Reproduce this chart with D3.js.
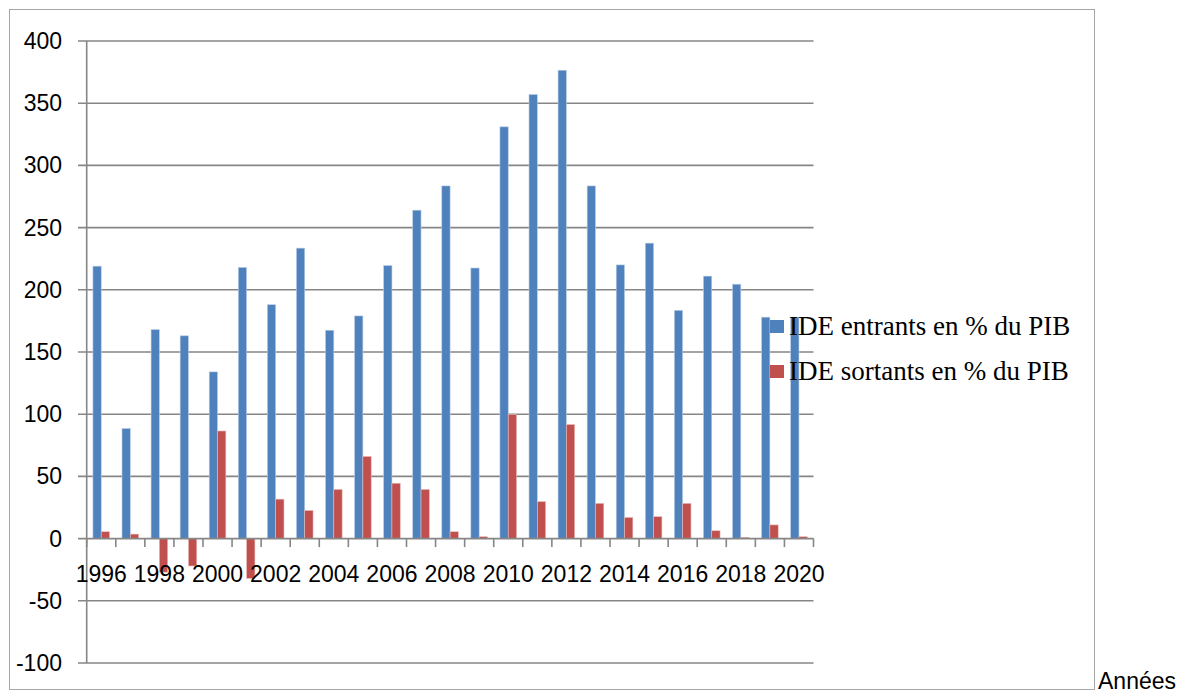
<!DOCTYPE html>
<html>
<head>
<meta charset="utf-8">
<script src="https://cdn.jsdelivr.net/npm/d3@7"></script>
<style>
  html, body { margin: 0; padding: 0; background: #fff; }
  svg { display: block; }
</style>
</head>
<body>
<script>
const years = [1996,1997,1998,1999,2000,2001,2002,2003,2004,2005,2006,2007,2008,2009,2010,2011,2012,2013,2014,2015,2016,2017,2018,2019,2020];
const ideEntrants = [219,88.5,168,163,134,218,188,233.5,167.5,179,219.5,264,283.5,217.5,331,357,376.5,283.5,220,237.5,183.5,211,204.5,178,178];
const ideSortants = [5.5,3.6,-27,-22,86.5,-32,31.7,22.6,39.5,66,44.5,39.5,5.5,1.5,99.7,29.7,91.7,28.3,17,17.6,28.3,6.3,1,11,1.5];
const yTicks = [-100,-50,0,50,100,150,200,250,300,350,400];
const xLabelYears = years.filter((d,i) => i % 2 === 0);
const seriesNames = ["IDE entrants en % du PIB", "IDE sortants en % du PIB"];
const seriesColors = ["#4F81BD", "#C0504D"];
const axisTitle = "Années";

const W = 1184, H = 695;
const svg = d3.select("body").append("svg").attr("width", W).attr("height", H);

// outer frame
svg.append("rect").attr("x", 9.5).attr("y", 9.5).attr("width", 1085).attr("height", 680)
  .attr("fill", "#fff").attr("stroke", "#a6a6a6").attr("stroke-width", 1);

const x = d3.scaleBand().domain(years).range([86.7, 813.5]).padding(0);
const xs = d3.scaleBand().domain([0,1]).range([0, x.bandwidth()]).paddingInner(0).paddingOuter(0.75);
const y = d3.scaleLinear().domain([-100, 400]).range([663, 41]);

const labelFont = "'Liberation Sans', Arial, sans-serif";
const gridColor = "#868686";

// gridlines (with outside tick)
svg.append("g").selectAll("line").data(yTicks.filter(d => d !== 0)).join("line")
  .attr("x1", 78).attr("x2", 813.5)
  .attr("y1", d => y(d)).attr("y2", d => y(d))
  .attr("stroke", gridColor).attr("stroke-width", 1.6);

// y-axis line
svg.append("line").attr("x1", x.range()[0]).attr("x2", x.range()[0])
  .attr("y1", y(400)).attr("y2", y(-100))
  .attr("stroke", gridColor).attr("stroke-width", 1.6);

// y labels
svg.append("g").selectAll("text").data(yTicks).join("text")
  .attr("x", 62).attr("y", d => y(d) + 8)
  .attr("text-anchor", "end")
  .attr("font-family", labelFont).attr("font-size", 23).attr("fill", "#000")
  .text(d => d);

// bars
const series = [ideEntrants, ideSortants];
series.forEach((vals, si) => {
  svg.append("g").selectAll("rect").data(vals).join("rect")
    .attr("x", (d,i) => x(years[i]) + xs(si))
    .attr("width", xs.bandwidth())
    .attr("y", d => y(Math.max(0, d)))
    .attr("height", d => Math.abs(y(d) - y(0)))
    .attr("fill", seriesColors[si])
    .attr("stroke", si === 0 ? "#b9cde5" : "#e6b9b8").attr("stroke-width", 0.6);
});

// x axis line at zero
svg.append("line").attr("x1", 78).attr("x2", 813.5)
  .attr("y1", y(0)).attr("y2", y(0))
  .attr("stroke", gridColor).attr("stroke-width", 1.6);
// category tick marks at band boundaries
const bounds = years.map(d => x(d)).concat([x.range()[1]]);
svg.append("g").selectAll("line").data(bounds).join("line")
  .attr("x1", d => d).attr("x2", d => d)
  .attr("y1", y(0)).attr("y2", y(0) + 8.5)
  .attr("stroke", gridColor).attr("stroke-width", 1.6);

// x labels
svg.append("g").selectAll("text").data(xLabelYears).join("text")
  .attr("x", d => x(d) + x.bandwidth()/2).attr("y", 582)
  .attr("text-anchor", "middle")
  .attr("font-family", labelFont).attr("font-size", 23).attr("fill", "#000")
  .text(d => d);

// legend
const lg = svg.append("g");
seriesNames.forEach((name, i) => {
  const cy = 326.5 + i * 45;
  lg.append("rect").attr("x", 770).attr("y", cy - 6.5).attr("width", 14).attr("height", 13)
    .attr("fill", seriesColors[i]);
  lg.append("text").attr("x", 789).attr("y", cy + 8.5)
    .attr("font-family", "'Liberation Serif', 'Times New Roman', serif")
    .attr("font-size", 27).attr("fill", "#000")
    .text(name);
});

// axis title
svg.append("text").attr("x", 1098).attr("y", 689)
  .attr("font-family", labelFont).attr("font-size", 23).attr("fill", "#000")
  .text(axisTitle);
</script>
</body>
</html>
